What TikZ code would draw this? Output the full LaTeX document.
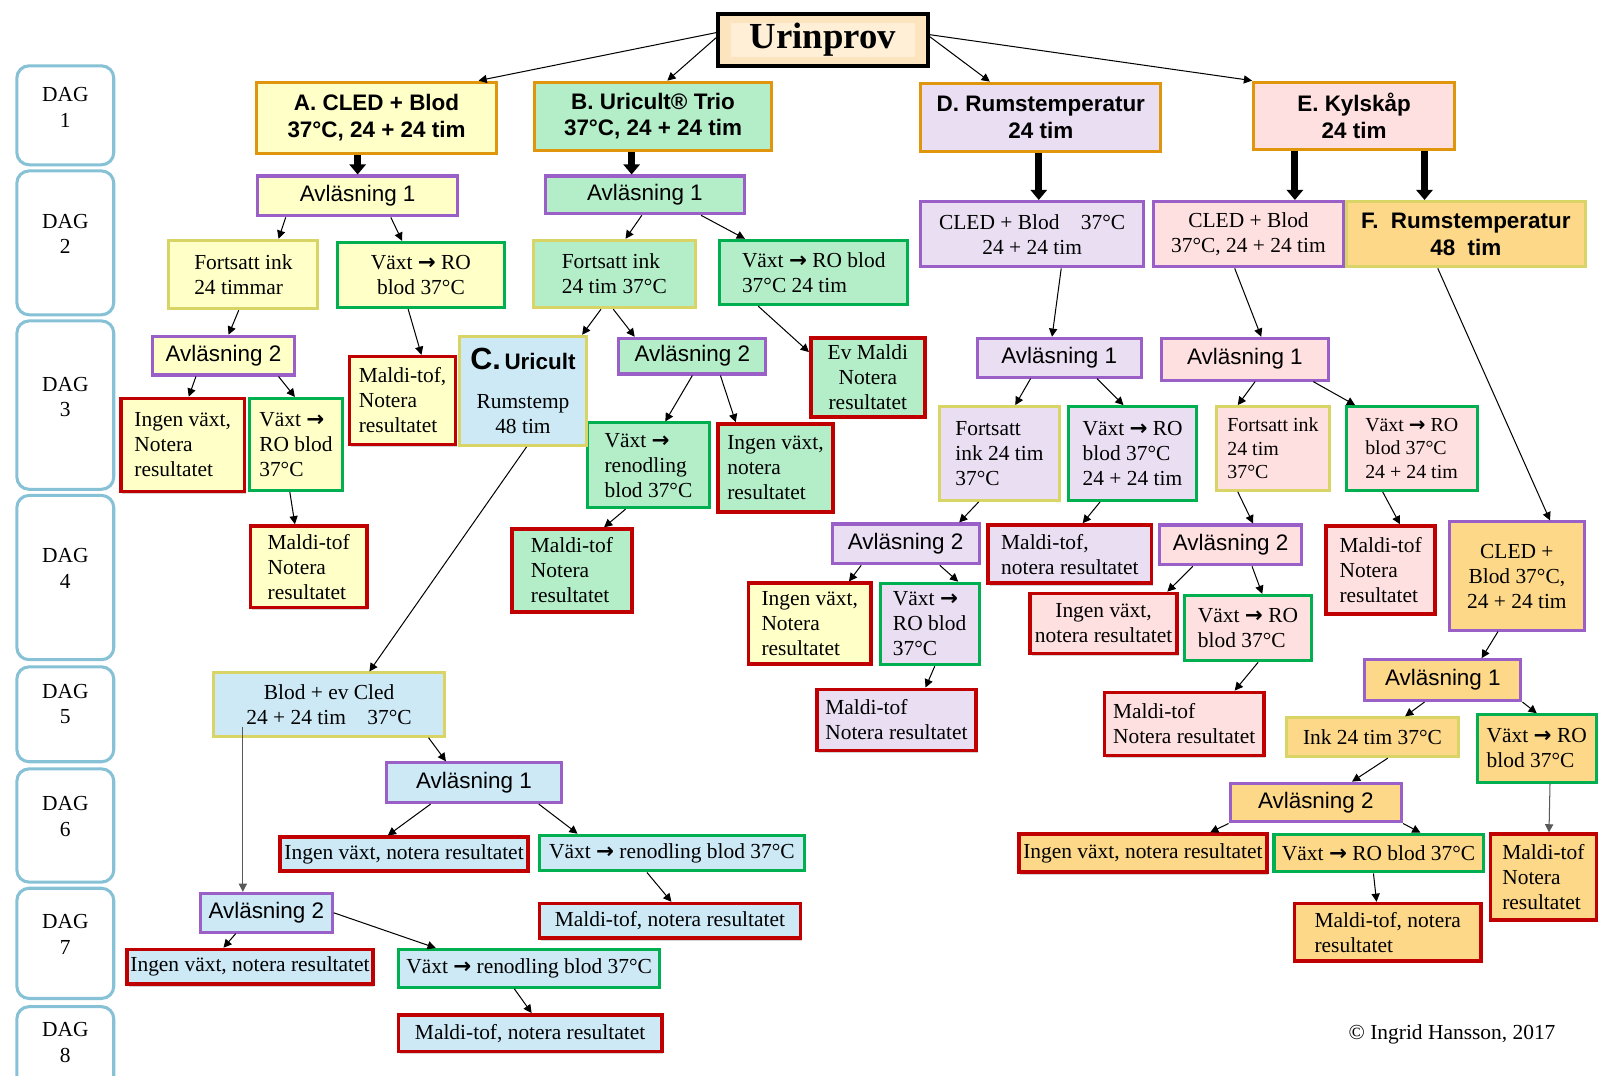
\documentclass[tikz,border=0pt]{standalone}
\usepackage{fontspec}
\setmainfont{Liberation Serif}
\setsansfont{Liberation Sans}
\newfontfamily\dvs{DejaVu Sans}
\usepackage{tikz}
\usetikzlibrary{arrows.meta,shadows}
\definecolor{cdag}{HTML}{86C1D6}
\definecolor{cylw}{HTML}{FFFFC8}
\definecolor{cmnt}{HTML}{B4EEC8}
\definecolor{clav}{HTML}{E9DEF2}
\definecolor{cpnk}{HTML}{FFE0E0}
\definecolor{csky}{HTML}{CDE9F6}
\definecolor{capr}{HTML}{FDD889}
\definecolor{ccream}{HTML}{FBE4BE}
\definecolor{cinner}{HTML}{FEEFD6}
\definecolor{cgold}{HTML}{E0960C}
\definecolor{cpurp}{HTML}{9B5FC8}
\definecolor{ckhaki}{HTML}{D9D466}
\definecolor{cgrn}{HTML}{00B050}
\definecolor{crd}{HTML}{C00000}
\newcommand\fs{\fontsize{21}{24.5}\selectfont}
\newcommand\fsm{\fontsize{19.5}{23}\selectfont}
\newcommand\fss{\fontsize{22}{26}\selectfont\sffamily}
\newcommand\pil{{\dvs\bfseries →}}

\begin{document}
\begin{tikzpicture}[x=1pt,y=-1pt,
  bx/.style={draw,line width=3pt,inner sep=0pt,font=\fs,align=center},
  sz/.style 2 args={minimum width=#1,minimum height=#2},
  ylw/.style={bx,fill=cylw}, mnt/.style={bx,fill=cmnt}, lav/.style={bx,fill=clav},
  pnk/.style={bx,fill=cpnk}, sky/.style={bx,fill=csky}, apr/.style={bx,fill=capr},
  ob/.style={draw=cgold}, pb/.style={draw=cpurp}, kb/.style={draw=ckhaki}, gb/.style={draw=cgrn},
  rb/.style={draw=crd,line width=3.5pt,drop shadow={shadow xshift=1.5pt,shadow yshift=-2.5pt,opacity=.35}},
  av/.style={font=\fss},
  ttl/.style={font=\fss\bfseries},
  urn/.style={bx,fill=ccream,draw=black,line width=3.5pt,font=\fontsize{36}{40}\selectfont\bfseries,
    path picture={\fill[cinner] ([xshift=13pt,yshift=-9pt]path picture bounding box.north west) rectangle ([xshift=-13pt,yshift=9pt]path picture bounding box.south east);}},
  dag/.style={draw=cdag,line width=3pt,rounded corners=12pt,minimum width=95pt},
  dagt/.style={font=\fontsize{21}{25}\selectfont,align=center,inner sep=0pt},
  ar/.style={-{Triangle[length=8pt,width=8pt]},line width=1pt},
  thk/.style={-{Triangle[length=10pt,width=16pt]},line width=7pt}]
\useasboundingbox (0,0) rectangle (1568,1054);

% day column
\foreach \n/\cy/\h/\ty in {1/113/97/105.5,2/238/141/229,3/397/165/389,4/566/161/557,5/700/93/690,6/809/111/800,7/924.5/108/915.5,8/1030/87/1021.5}{
  \node[dag,minimum height=\h pt] (dag\n) at (64,\cy) {};
  \node[dagt] (dagt\n) at (64,\ty) {DAG\\\n};
}

% top
\node[urn,sz={206pt}{51pt}] (urin) at (806.5,39) {Urinprov};
\node[ylw,ob,ttl,sz={235pt}{70pt}] (a) at (369,115.5) {A. CLED + Blod\\37°C, 24 + 24 tim};
\node[mnt,ob,ttl,sz={233pt}{67pt}] (b) at (640,114) {B. Uricult® Trio\\37°C, 24 + 24 tim};
\node[lav,ob,ttl,sz={235pt}{67pt}] (d) at (1020,115) {D. Rumstemperatur\\24 tim};
\node[pnk,ob,ttl,sz={197pt}{66pt}] (e) at (1327,113.5) {E. Kylskåp\\24 tim};

\node[ylw,pb,av,sz={196pt}{39pt}] (aav1) at (350.5,192) {Avläsning 1};
\node[mnt,pb,av,sz={195pt}{37pt}] (bav1) at (632,191) {Avläsning 1};
\node[lav,pb,sz={218pt}{64pt}] (dcled) at (1011.5,229.5) {CLED + Blod\quad 37°C\\24 + 24 tim};
\node[apr,kb,ttl,sz={234pt}{64pt}] (f) at (1436.5,229.5) {F.\ \ Rumstemperatur\\48\ \ tim};
\node[pnk,pb,sz={186pt}{64pt}] (ecled) at (1223.5,229.5) {CLED + Blod\\37°C, 24 + 24 tim};

% A and B
\node[ylw,kb,align=left,sz={146pt}{67pt}] (afort) at (238.5,269) {Fortsatt ink\\24 timmar};
\node[ylw,gb,sz={164pt}{64pt}] (avx) at (412.5,269.5) {Växt \pil{} RO\\blod 37°C};
\node[mnt,kb,align=left,sz={159pt}{66pt}] (bfort) at (602,268.5) {Fortsatt ink\\24 tim 37°C};
\node[mnt,gb,align=left,sz={184pt}{63pt}] (bvx) at (797.5,267) {Växt \pil{} RO blod\\37°C 24 tim};
\node[ylw,pb,av,sz={139pt}{38pt}] (aav2) at (219,348.5) {Avläsning 2};
\node[ylw,rb,align=left,sz={121pt}{91pt}] (aing) at (179,436) {Ingen växt,\\Notera\\resultatet};
\node[ylw,gb,align=left,sz={91pt}{90pt}] (avro) at (290,435.5) {Växt \pil\\RO blod\\37°C};
\node[ylw,rb,align=left,sz={104pt}{86pt}] (amal1) at (394.5,392.5) {Maldi-tof,\\Notera\\resultatet};
\node[ylw,rb,align=left,sz={114pt}{80pt}] (amal2) at (302.5,555.5) {Maldi-tof\\Notera\\resultatet};
\node[mnt,pb,av,sz={144pt}{35pt}] (bav2) at (678.5,349) {Avläsning 2};
\node[mnt,rb,sz={112pt}{77pt}] (bevm) at (850.5,370) {Ev Maldi\\Notera\\resultatet};
\node[mnt,gb,align=left,sz={120pt}{83pt}] (bvren) at (635.5,456) {Växt \pil\\renodling\\blod 37°C};
\node[mnt,rb,align=left,sz={113pt}{86pt}] (bing) at (760,458.5) {Ingen växt,\\notera\\resultatet};
\node[mnt,rb,align=left,sz={118pt}{81pt}] (bmal) at (560.5,559) {Maldi-tof\\Notera\\resultatet};

% C
\node[sky,kb,sz={124pt}{107pt}] (c) at (512.5,383) {{\fontsize{30}{32}\selectfont\sffamily\bfseries C.}\,{\fss\bfseries Uricult}\\[14pt]Rumstemp\\48 tim};
\node[sky,kb,sz={226pt}{62pt}] (cblod) at (322.5,690.5) {Blod + ev Cled\\24 + 24 tim\quad 37°C};
\node[sky,pb,av,sz={172pt}{39pt}] (cav1) at (464.5,767) {Avläsning 1};
\node[sky,rb,sz={243pt}{33pt}] (cing1) at (396,837) {Ingen växt, notera resultatet};
\node[sky,gb,sz={260pt}{35pt}] (cvx1) at (658.5,836) {Växt \pil{} renodling blod 37°C};
\node[sky,rb,sz={256pt}{34pt}] (cmal1) at (656.5,902.5) {Maldi-tof, notera resultatet};
\node[sky,pb,av,sz={129pt}{38pt}] (cav2) at (261,894.5) {Avläsning 2};
\node[sky,rb,sz={241pt}{34pt}] (cing2) at (245,947.5) {Ingen växt, notera resultatet};
\node[sky,gb,sz={256pt}{37pt}] (cvx2) at (518.5,949) {Växt \pil{} renodling blod 37°C};
\node[sky,rb,sz={258pt}{36pt}] (cmal2) at (519.5,1012.5) {Maldi-tof, notera resultatet};

% D
\node[lav,pb,av,sz={161pt}{38pt}] (dav1) at (1038,350.5) {Avläsning 1};
\node[lav,kb,align=left,sz={118pt}{92pt}] (dfort) at (979.5,444.5) {Fortsatt\\ink 24 tim\\37°C};
\node[lav,gb,align=left,sz={125pt}{92pt}] (dvx) at (1110,444.5) {Växt \pil{} RO\\blod 37°C\\24 + 24 tim};
\node[lav,pb,av,sz={144pt}{39pt}] (dav2) at (887.5,533) {Avläsning 2};
\node[lav,rb,align=left,sz={160pt}{57pt}] (dmal) at (1048.5,543) {Maldi-tof,\\notera resultatet};
\node[ylw,rb,align=left,sz={120pt}{79pt}] (ding) at (793.5,611) {Ingen växt,\\Notera\\resultatet};
\node[lav,gb,align=left,sz={97pt}{80pt}] (dvro) at (911,611.5) {Växt \pil\\RO blod\\37°C};
\node[lav,rb,align=left,sz={156pt}{60pt}] (dmal2) at (878.5,705.5) {Maldi-tof\\Notera resultatet};

% E
\node[pnk,pb,av,sz={163pt}{41pt}] (eav1) at (1220,352) {Avläsning 1};
\node[pnk,kb,align=left,font=\fsm,sz={110pt}{82pt}] (efort) at (1247.5,439.5) {Fortsatt ink\\24 tim\\37°C};
\node[pnk,gb,align=left,font=\fsm,sz={128pt}{82pt}] (evx) at (1383.5,439.5) {Växt \pil{} RO\\blod 37°C\\24 + 24 tim};
\node[pnk,pb,av,sz={139pt}{39pt}] (eav2) at (1206,534) {Avläsning 2};
\node[pnk,rb,align=left,sz={107pt}{86pt}] (emal) at (1353,558.5) {Maldi-tof\\Notera\\resultatet};
\node[pnk,rb,sz={144pt}{59pt}] (eing) at (1081.5,611) {Ingen växt,\\notera resultatet};
\node[pnk,gb,align=left,sz={125pt}{64pt}] (evro) at (1223,615.5) {Växt \pil{} RO\\blod 37°C};
\node[pnk,rb,align=left,sz={156pt}{62pt}] (emal2) at (1160.5,709.5) {Maldi-tof\\Notera resultatet};

% F
\node[apr,pb,sz={132pt}{106pt}] (fcled) at (1486.5,564.5) {CLED +\\Blod 37°C,\\24 + 24 tim};
\node[apr,pb,av,sz={153pt}{40pt}] (fav1) at (1414,666.5) {Avläsning 1};
\node[apr,kb,sz={169pt}{38pt}] (fink) at (1345,722.5) {Ink 24 tim 37°C};
\node[apr,gb,align=left,sz={117pt}{66pt}] (fvx) at (1506,733.5) {Växt \pil{} RO\\blod 37°C};
\node[apr,pb,av,sz={168pt}{38pt}] (fav2) at (1289.5,786.5) {Avläsning 2};
\node[apr,rb,sz={243pt}{37pt}] (fing) at (1120,836) {Ingen växt, notera resultatet};
\node[apr,gb,sz={205pt}{37pt}] (fvro) at (1351,836) {Växt \pil{} RO blod 37°C};
\node[apr,rb,align=left,sz={104pt}{84pt}] (fmal) at (1512.5,859.5) {Maldi-tof\\Notera\\resultatet};
\node[apr,rb,align=left,sz={183pt}{56pt}] (fmal2) at (1360,913.5) {Maldi-tof, notera\\resultatet};

\node[font=\fs] (copy) at (1423,1014) {© Ingrid Hansson, 2017};

% connectors
\draw[ar] ([yshift=7pt]urin.west) -- ([xshift=100pt]a.north);
\draw[ar] ([yshift=2pt]urin.west) -- ([xshift=14pt]b.north);
\draw[ar] ([yshift=3pt]urin.east) -- ([xshift=-50pt]d.north);
\draw[ar] ([yshift=5pt]urin.east) -- (e.north west);
\draw[thk] (aav1.north |- a.south) -- (aav1.north);
\draw[thk] ([xshift=-21pt]b.south) -- ([xshift=-13pt]bav1.north);
\draw[thk] ([xshift=-2pt]d.south) -- ([xshift=6.5pt]dcled.north);
\draw[thk] ([xshift=-58pt]e.south) -- ([xshift=45.5pt]ecled.north);
\draw[thk] ([xshift=69pt]e.south) -- ([xshift=-40.5pt]f.north);

\draw[ar] ([xshift=-70.5pt]aav1.south) -- ([xshift=34.5pt]afort.north);
\draw[ar] ([xshift=32.5pt]aav1.south) -- ([xshift=-18.5pt]avx.north);
\draw[ar] ([xshift=-4.5pt]afort.south) -- ([xshift=5pt]aav2.north);
\draw[ar] ([xshift=-12.5pt]avx.south) -- ([xshift=18.5pt]amal1.north);
\draw[ar] ([xshift=-27pt]aav2.south) -- ([xshift=6pt]aing.north);
\draw[ar] ([xshift=54pt]aav2.south) -- ([xshift=-1pt]avro.north);
\draw[ar] ([xshift=-6pt]avro.south) -- ([xshift=-13.5pt]amal2.north);

\draw[ar] ([xshift=-3pt]bav1.south) -- ([xshift=11pt]bfort.north);
\draw[ar] ([xshift=55pt]bav1.south) -- ([xshift=-67.5pt]bvx.north);
\draw[ar] ([xshift=-13pt]bfort.south) -- ([xshift=58pt]c.north);
\draw[ar] ([xshift=-1pt]bfort.south) -- ([xshift=-56.5pt]bav2.north);
\draw[ar] ([xshift=-54.5pt]bvx.south) -- ([yshift=25pt]bevm.west);
\draw[ar] (bav2.south) -- ([xshift=16.5pt]bvren.north);
\draw[ar] ([xshift=27.5pt]bav2.south) -- ([xshift=-39pt]bing.north);
\draw[ar] ([xshift=-22.5pt]bvren.south) -- ([xshift=31.5pt]bmal.north);

\draw[ar] ([xshift=3.5pt]c.south) -- ([xshift=39.5pt]cblod.north);
\draw[ar] ([xshift=97.5pt]cblod.south) -- ([xshift=-27.5pt]cav1.north);
\draw[ar,gray!70!black] ([xshift=-84.5pt,yshift=-21.5pt]cblod.center) -- ([xshift=-23pt]cav2.north);
\draw[ar] ([xshift=-42.5pt]cav1.south) -- ([xshift=-16pt]cing1.north);
\draw[ar] ([xshift=63.5pt]cav1.south) -- ([xshift=-92.5pt]cvx1.north);
\draw[ar] ([xshift=-24.5pt]cvx1.south) -- ([xshift=1.5pt]cmal1.north);
\draw[ar] ([xshift=-30pt]cav2.south) -- ([xshift=-26pt]cing2.north);
\draw[ar] (cav2.east) -- ([xshift=-91.5pt]cvx2.north);
\draw[ar] ([xshift=-14.5pt]cvx2.south) -- ([xshift=1.5pt]cmal2.north);

\draw[ar] ([xshift=28.5pt]dcled.south) -- ([xshift=-7pt]dav1.north);
\draw[ar] ([xshift=-28pt]dav1.south) -- ([xshift=15.5pt]dfort.north);
\draw[ar] ([xshift=37pt]dav1.south) -- ([xshift=-9pt]dvx.north);
\draw[ar] ([xshift=-20.5pt]dfort.south) -- ([xshift=52.5pt]dav2.north);
\draw[ar] ([xshift=-32pt]dvx.south) -- ([xshift=12.5pt]dmal.north);
\draw[ar] ([xshift=-43.5pt]dav2.south) -- ([xshift=38.5pt]ding.north);
\draw[ar] ([xshift=33.5pt]dav2.south) -- ([xshift=28pt]dvro.north);
\draw[ar] ([xshift=5pt]dvro.south) -- ([xshift=28.5pt]dmal2.north);

\draw[ar] ([xshift=-13.5pt]ecled.south) -- ([xshift=16pt]eav1.north);
\draw[ar] ([xshift=10pt]eav1.south) -- ([xshift=-34.5pt]efort.north);
\draw[ar] ([xshift=67pt]eav1.south) -- ([xshift=-55.5pt]evx.north);
\draw[ar] ([xshift=-34.5pt]efort.south) -- ([xshift=22pt]eav2.north);
\draw[ar] ([xshift=-28.5pt]evx.south) -- ([xshift=19pt]emal.north);
\draw[ar] ([xshift=-37pt]eav2.south) -- ([xshift=62.5pt]eing.north);
\draw[ar] ([xshift=21pt]eav2.south) -- ([xshift=14pt]evro.north);
\draw[ar] ([xshift=10pt]evro.south) -- ([xshift=49.5pt]emal2.north);
\draw[ar] ([xshift=-27.5pt]f.south) -- ([xshift=32.5pt]fcled.north);

\draw[ar] ([xshift=-18.5pt]fcled.south) -- ([xshift=38pt]fav1.north);
\draw[ar] ([xshift=-18pt]fav1.south) -- ([xshift=32pt]fink.north);
\draw[ar] (fav1.south east) -- (fvx.north);
\draw[ar] ([xshift=15pt]fink.south) -- ([xshift=35.5pt]fav2.north);
\draw[ar,gray!70!black] ([xshift=13pt]fvx.south) -- ([xshift=5.5pt]fmal.north);
\draw[ar] (fav2.south west) -- ([xshift=66pt]fing.north);
\draw[ar] (fav2.south east) -- ([xshift=41pt]fvro.north);
\draw[ar] ([xshift=-5pt]fvro.south) -- ([xshift=-11pt]fmal2.north);
\end{tikzpicture}
\end{document}
